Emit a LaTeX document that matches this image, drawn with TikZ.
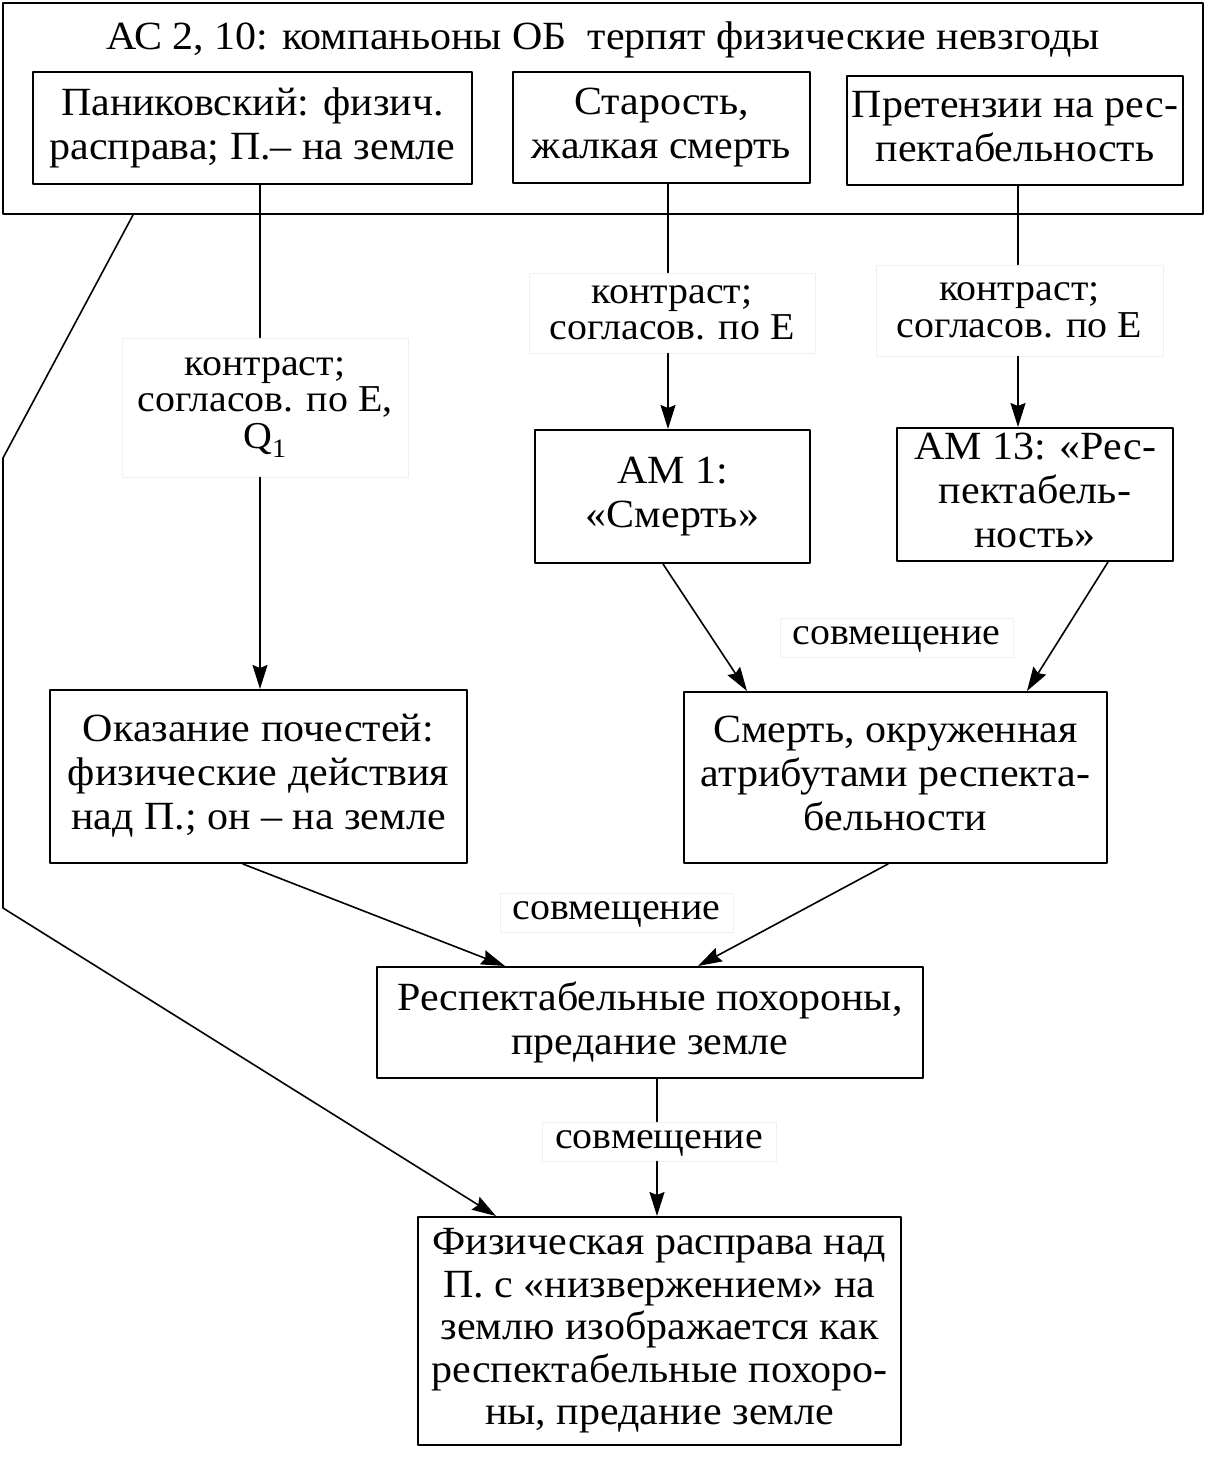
\documentclass[tikz,border=0pt]{standalone}
\usepackage{fontspec}
\setmainfont{Liberation Serif}[FakeStretch=1.05]
\usetikzlibrary{arrows.meta}

\newcommand\boxfont{\fontsize{40}{44}\selectfont\lineskiplimit-100pt\relax}
\newcommand\lblfont{\fontsize{38}{36.5}\selectfont\lineskiplimit-100pt\relax}

\tikzset{
  box/.style={draw, line width=2pt, align=center, inner sep=0pt, font=\boxfont,
    execute at begin node={\rule{0pt}{42pt}},
    execute at end node={\rule[-9pt]{0pt}{9pt}}},
  frm/.style={draw, line width=2pt, inner sep=0pt},
  lbl/.style={draw=black!6, line width=1pt, fill=white, align=center, inner sep=0pt, font=\lblfont},
  lblone/.style={lbl, text height=20pt, text depth=7pt},
  link/.style={line width=1.6pt},
  arr/.style={link, -{Stealth[length=24pt,width=15pt,inset=3pt]}},
}

\begin{document}
\begin{tikzpicture}[x=1pt,y=-1pt,line cap=round,line join=round]
\useasboundingbox (0,0) rectangle (1206,1477);

% top frame and its three boxes
\node[frm, minimum width=1200pt, minimum height=211pt] (frame) at (603,108.5) {};
\node[font=\boxfont] (title) at (603,40) {АС 2, 10: компаньоны ОБ\ \ терпят физические невзгоды};
\node[box, minimum width=439pt, minimum height=112pt] (panik) at (252.5,128) {Паниковский: физич.\\ расправа; П.– на земле};
\node[box, minimum width=297pt, minimum height=111pt] (starost) at (661.5,127.5) {Старость,\\ жалкая смерть};
\node[box, minimum width=336pt, minimum height=109pt] (pretenz) at (1015,130.5) {Претензии на рес-\\ пектабельность};

% middle boxes
\node[box, minimum width=275pt, minimum height=133pt] (am1) at (672.5,496.5) {АМ 1:\\ «Смерть»};
\node[box, minimum width=276pt, minimum height=133pt] (am13) at (1035,494.5) {АМ 13: «Рес-\\ пектабель-\\ ность»};
\node[box, minimum width=417pt, minimum height=173pt] (pochest) at (258.5,776.5) {Оказание почестей:\\ физические действия\\ над П.; он – на земле};
\node[box, minimum width=423pt, minimum height=171pt] (smert) at (895.5,777.5) {Смерть, окруженная\\ атрибутами респекта-\\ бельности};
\node[box, minimum width=546pt, minimum height=111pt] (pohoron) at (650,1022.5) {Респектабельные похороны,\\ предание земле};
\node[box, minimum width=483pt, minimum height=228pt, font=\fontsize{40}{42.5}\selectfont\lineskiplimit-100pt\relax] (rasprava) at (659.5,1331) {Физическая расправа над\\ П. с «низвержением» на\\ землю изображается как\\ респектабельные похоро-\\ ны, предание земле};

% labels on the links
\node[lbl, minimum width=286pt, minimum height=139pt] (kontr1) at (265,407.5) {контраст;\\ согласов. по Е,\\ Q\textsubscript{1}};
\node[lbl, minimum width=286pt, minimum height=80pt] (kontr2) at (672,313) {контраст;\\ согласов. по Е};
\node[lbl, minimum width=287pt, minimum height=91pt] (kontr3) at (1019.5,310.5) {контраст;\\ согласов. по Е};
\node[lblone, minimum width=233pt, minimum height=39pt] (sovm1) at (896.5,637.5) {совмещение};
\node[lblone, minimum width=233pt, minimum height=39pt] (sovm2) at (616.5,912.5) {совмещение};
\node[lblone, minimum width=234pt, minimum height=39pt] (sovm3) at (659,1141.5) {совмещение};

% vertical links through the labels
\coordinate (xp) at (260,0);
\coordinate (xs) at (668,0);
\coordinate (xr) at (1018,0);
\coordinate (xh) at (657,0);
\draw[link] (panik.south -| xp) -- (kontr1.north -| xp);
\draw[arr] (kontr1.south -| xp) -- (pochest.north -| xp);
\draw[link] (starost.south -| xs) -- (kontr2.north -| xs);
\draw[arr] (kontr2.south -| xs) -- (am1.north -| xs);
\draw[link] (pretenz.south -| xr) -- (kontr3.north -| xr);
\draw[arr] (kontr3.south -| xr) -- (am13.north -| xr);
\draw[link] (pohoron.south -| xh) -- (sovm3.north -| xh);
\draw[arr] (sovm3.south -| xh) -- (rasprava.north -| xh);

% joining links
\draw[arr] ([xshift=-9.5pt]am1.south) -- ([xshift=-148.5pt]smert.north);
\draw[arr] ([xshift=73pt]am13.south) -- ([xshift=131.5pt]smert.north);
\draw[arr] ([xshift=-15.5pt]pochest.south) -- ([xshift=-145pt]pohoron.north);
\draw[arr] ([xshift=-7.5pt]smert.south) -- ([xshift=48pt]pohoron.north);

% long link from the frame
\coordinate (fstart) at (133,0);
\coordinate (bend1) at (3,458);
\coordinate (bend2) at (3,908);
\coordinate (fend) at (496,0);
\draw[arr] (frame.south -| fstart) -- (bend1) -- (bend2) -- (rasprava.north -| fend);
\end{tikzpicture}
\end{document}
